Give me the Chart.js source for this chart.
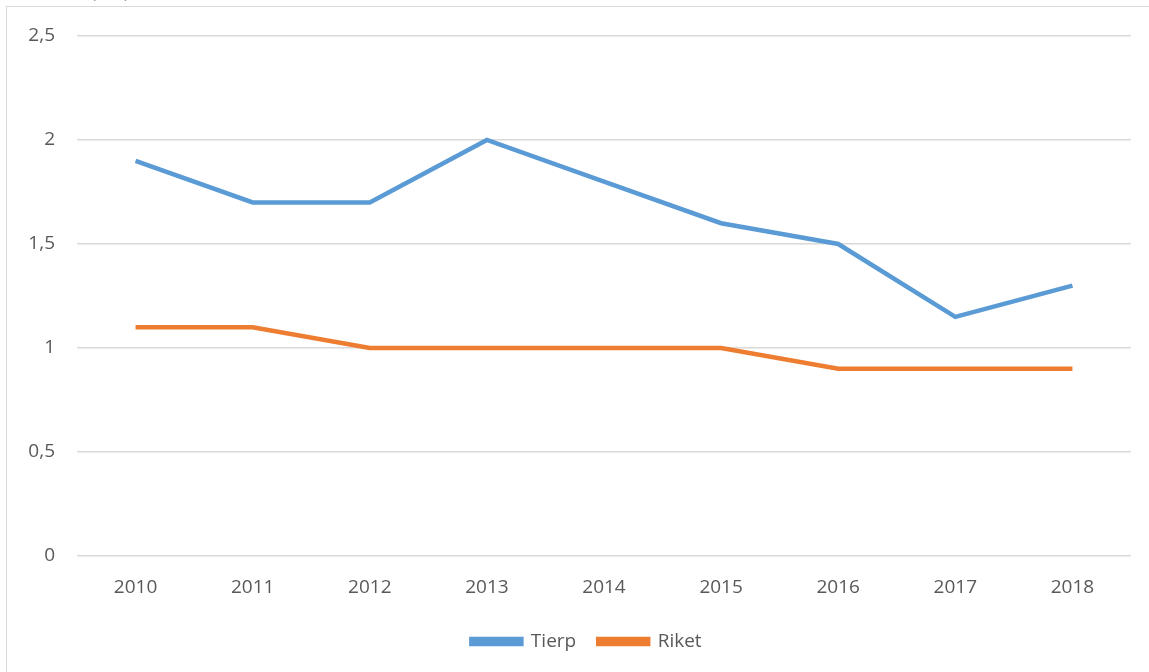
<!DOCTYPE html>
<html><head><meta charset="utf-8">
<script src="https://cdn.jsdelivr.net/npm/chart.js@4.4.0/dist/chart.umd.min.js"></script>
<style>
html,body{margin:0;padding:0;background:#fff;width:1149px;height:672px;overflow:hidden;position:relative;font-family:"Open Sans",sans-serif}
#frame{position:absolute;left:6px;top:6px;width:1160px;height:700px;border:1.5px solid #d9d9d9;box-sizing:border-box}
#unit{position:absolute;left:88px;top:-25px;font-size:24px;letter-spacing:4px;color:#404040;font-family:"Liberation Serif",serif}
#wrap{position:absolute;left:0;top:0;width:1149px;height:672px}
</style></head>
<body>
<div id="frame"></div>
<div id="unit">(%)</div>
<div id="wrap"><canvas id="c" width="1149" height="672"></canvas></div>
<script>
const categories = ["2010","2011","2012","2013","2014","2015","2016","2017","2018"];
const tierp = [1.9, 1.7, 1.7, 2.0, 1.8, 1.6, 1.5, 1.15, 1.3];
const riket = [1.1, 1.1, 1.0, 1.0, 1.0, 1.0, 0.9, 0.9, 0.9];
const yTicks = [0, 0.5, 1, 1.5, 2, 2.5];

const shiftLegend = {
  id:'shiftLegend',
  afterLayout(chart){ if(chart.legend){ chart.legend.left += 21; chart.legend.right += 21; } }
};

new Chart(document.getElementById('c'), {
  type: 'line',
  data: {
    labels: categories,
    datasets: [
      {label:'Tierp', data: tierp, borderColor:'#5B9BD5', backgroundColor:'#5B9BD5', borderWidth:4.5, pointRadius:0, tension:0},
      {label:'Riket', data: riket, borderColor:'#ED7D31', backgroundColor:'#ED7D31', borderWidth:4.5, pointRadius:0, tension:0}
    ]
  },
  plugins:[shiftLegend],
  options: {
    responsive:false, animation:false,
    layout:{padding:{left:0,right:18,top:36,bottom:11}},
    plugins:{
      legend:{position:'bottom', labels:{boxWidth:50, boxHeight:5, color:'#595959', font:{family:'Open Sans', size:19}, padding:22}},
      tooltip:{enabled:false}
    },
    scales:{
      x:{
        offset:true,
        grid:{display:false, drawTicks:false},
        border:{display:false},
        ticks:{color:'#595959', font:{family:'Open Sans', size:19}, padding:20, maxRotation:0},
        afterFit:(s)=>{s.height=54;}
      },
      y:{
        min:0, max:2.5,
        afterBuildTicks:(s)=>{s.ticks = yTicks.map(v=>({value:v}));},
        grid:{color:'#d9d9d9', lineWidth:1.5, drawTicks:false},
        border:{display:false},
        ticks:{color:'#595959', font:{family:'Open Sans', size:19}, padding:22,
          callback:(v)=>String(v).replace('.',',')},
        afterFit:(s)=>{s.width=77;}
      }
    }
  }
});
</script>
</body></html>
